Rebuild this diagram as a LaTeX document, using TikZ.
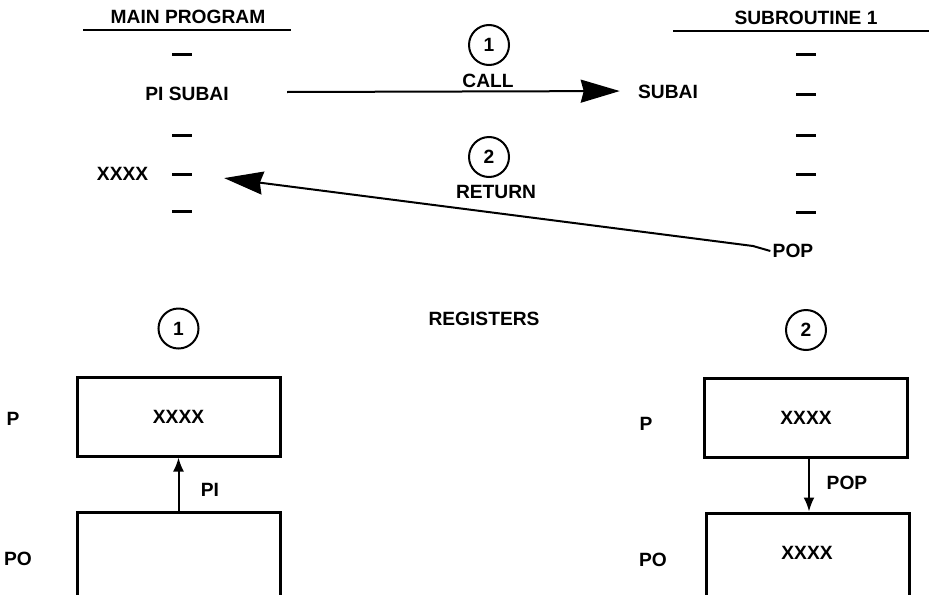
\documentclass[tikz,border=0pt]{standalone}
\usepackage{fontspec}
\setmainfont{Liberation Sans}
\usetikzlibrary{arrows.meta,positioning}
\tikzset{
  lbl/.style={font=\fontsize{9.6}{11}\selectfont\bfseries,inner sep=1pt},
  tickmark/.style={fill=black,inner sep=0pt,minimum width=10pt,minimum height=1.5pt},
  stepnum/.style={draw,circle,line width=1pt,minimum size=20pt,inner sep=0pt,
    font=\fontsize{9.6}{11}\selectfont\bfseries},
  regbox/.style={draw,line width=1.5pt,minimum width=101.5pt,minimum height=39.5pt,
    font=\fontsize{9.6}{11}\selectfont\bfseries},
  jumparrow/.style={-{Stealth[length=19.5pt,width=11.5pt,inset=1.5pt]},line width=1pt},
  movearrow/.style={-{Latex[length=7pt,width=5.5pt]},line width=1pt}
}

\begin{document}
\begin{tikzpicture}[x=0.5pt,y=-0.5pt]
  \useasboundingbox (0,0) rectangle (929,594);
  % program listings
  \node[lbl] (mainhd) at (188,17) {MAIN PROGRAM};
  \node[lbl] (subhd) at (806,18) {SUBROUTINE 1};
  \draw[line width=1pt] (83,30) -- (291,30);
  \draw[line width=1pt] (673,31) -- (929,31);
  \foreach \y [count=\i] in {54,135,174,211}
    \node[tickmark] (m\i) at (182,\y) {};
  \foreach \y [count=\i] in {54,94,135,174,212}
    \node[tickmark] (s\i) at (806,\y) {};
  \node[lbl] (pisubai) at (187,94) {PI SUBAI};
  \node[lbl,left=10.5pt of m3] (xxxx) {XXXX};
  \node[lbl] (subai) at (668,92) {SUBAI};
  \node[lbl] (pop) at (793,251) {POP};
  % call and return
  \node[lbl] (call) at (488,81) {CALL};
  \node[stepnum] (c1) at (489,45) {1};
  \node[lbl] (return) at (496,192) {RETURN};
  \node[stepnum] (c2) at (489,157) {2};
  \coordinate (callstart) at (287,92);
  \coordinate (popbend) at (753,246);
  \draw[jumparrow,shorten >=8pt] (callstart) -- ([yshift=0.5pt]subai.west);
  \draw[jumparrow,shorten >=16pt] (pop.west) -- (popbend) -- (m3.east);
  % registers
  \node[lbl] (regs) at (484,319) {REGISTERS};
  \node[regbox] (p1) at (178.5,416.5) {XXXX};
  \node[regbox,minimum height=44pt] (po1) at (179,556) {};
  \node[stepnum,above=13pt of p1] (r1) {1};
  \node[lbl] (p1lbl) at (13,419) {P};
  \node[lbl] (po1lbl) at (18,559) {PO};
  \draw[movearrow] (po1.north -| p1.south) -- (p1.south);
  \node[lbl] at (210,490) {PI};
  \node[regbox] (p2) at (806,418) {XXXX};
  \node[regbox,minimum height=44pt] (po2) at (807.5,557) {};
  \node[lbl] at (807,553) {XXXX};
  \node[stepnum,above=13pt of p2] (r2) {2};
  \node[lbl] (p2lbl) at (646,424) {P};
  \node[lbl] (po2lbl) at (653,560) {PO};
  \draw[movearrow] (p2.south -| 809,0) -- (po2.north -| 809,0);
  \node[lbl] at (847,483) {POP};
\end{tikzpicture}
\end{document}
